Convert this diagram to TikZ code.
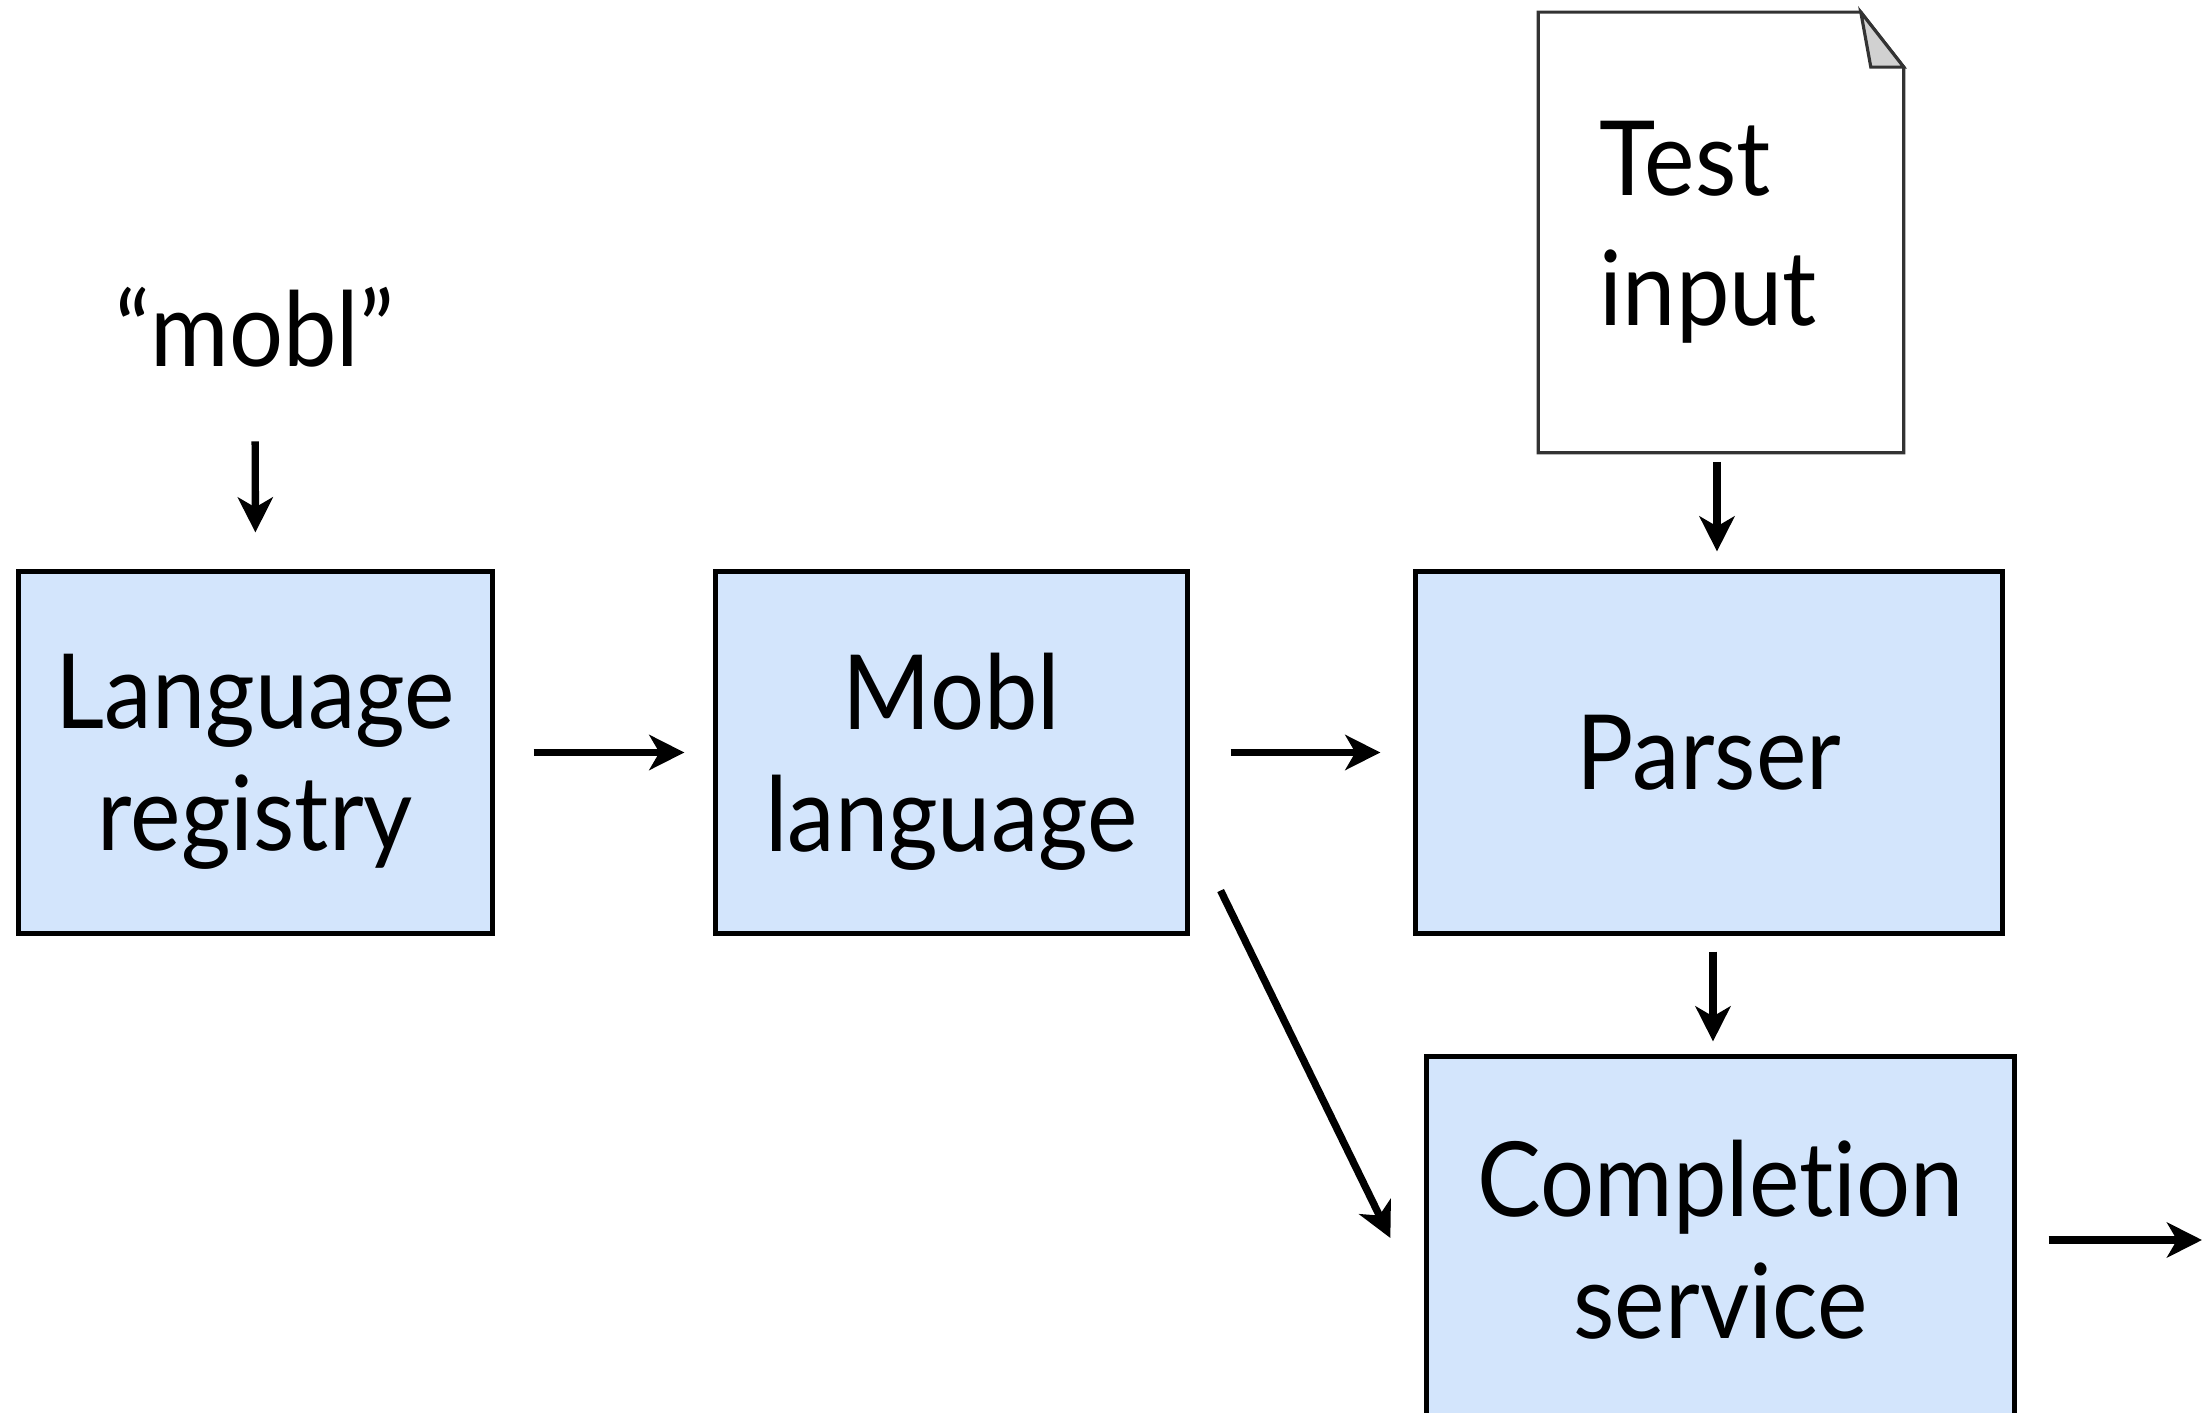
\documentclass[tikz,border=0pt]{standalone}
\usepackage{fontspec}
\setmainfont{Lato}[Ligatures={NoCommon}, FakeStretch=0.92]
\usetikzlibrary{arrows.meta, positioning, calc}

\definecolor{boxblue}{RGB}{211,229,252}

\begin{document}
\begin{tikzpicture}[x=0.01cm, y=-0.01cm,
    every node/.style={font=\fontsize{29.5}{34.7}\selectfont},
    block/.style={draw, line width=1.4pt, fill=boxblue, align=center, inner sep=0pt},
    docbox/.style={inner xsep=0.61cm, inner ysep=0pt, text width=2.42cm, minimum height=4.39cm, align=left,
        font=\fontsize{29.5}{37}\selectfont},
    flow/.style={line width=2.1pt, -{Stealth[length=0.35cm, width=0.35cm, inset=0.1cm]}}
]

% Page size
\clip (0,0) rectangle (2211,1413);

% Input name
\node[anchor=base, inner sep=0pt] (name) at (255,367) {“mobl”};

% Main row
\node[block, text depth=0pt, minimum width=4.73cm, minimum height=3.61cm] (reg) at (255.5,752.5) {Language\\registry};
\node[block, text depth=0pt, minimum width=4.71cm, minimum height=3.61cm] (mob) at (951.5,752.5) {Mobl\\language};
\node[block, minimum width=5.86cm, minimum height=3.61cm] (parser) at (1709,752.5) {Parser};

% Completion box runs off the page
\node[block, minimum width=5.87cm, minimum height=3.66cm] (comp) at (1720.5,1240) {Completion\\service};

% Test input document with folded corner
\node[docbox] (doc) at (1721,232.5) {Test\\input};
\draw[line width=0.9pt, black!80] (doc.north west) -- ($(doc.north east)+(-43,0)$)
    -- ($(doc.north east)+(0,55)$) -- (doc.south east) -- (doc.south west) -- cycle;
\filldraw[line width=0.9pt, fill=black!18, draw=black!80] ($(doc.north east)+(-43,0)$)
    -- ($(doc.north east)+(-33,55)$) -- ($(doc.north east)+(0,55)$) -- cycle;

% Arrows
\coordinate (out) at (2202,1240);
\coordinate (docout) at ($(doc.south)+(-4,0)$);
\coordinate (parseout) at ($(parser.south)+(4,0)$);
\draw[flow, shorten <=0.73cm, shorten >=0.37cm] (name.south) -- (reg.north);
\draw[flow, shorten <=0.39cm, shorten >=0.29cm] (reg.east) -- (mob.west);
\draw[flow, shorten <=0.41cm, shorten >=0.33cm] (mob.east) -- (parser.west);
\draw[flow, shorten <=0.09cm, shorten >=0.18cm] (docout) -- (docout |- parser.north);
\draw[flow, shorten <=0.16cm, shorten >=0.13cm] (parseout) -- (parseout |- comp.north);
\draw[flow] ($(mob.south east)+(31,-45)$) -- ($(comp.west)+(-34,-2)$);
\draw[flow, shorten <=0.32cm] (comp.east) -- (out);

\end{tikzpicture}
\end{document}
